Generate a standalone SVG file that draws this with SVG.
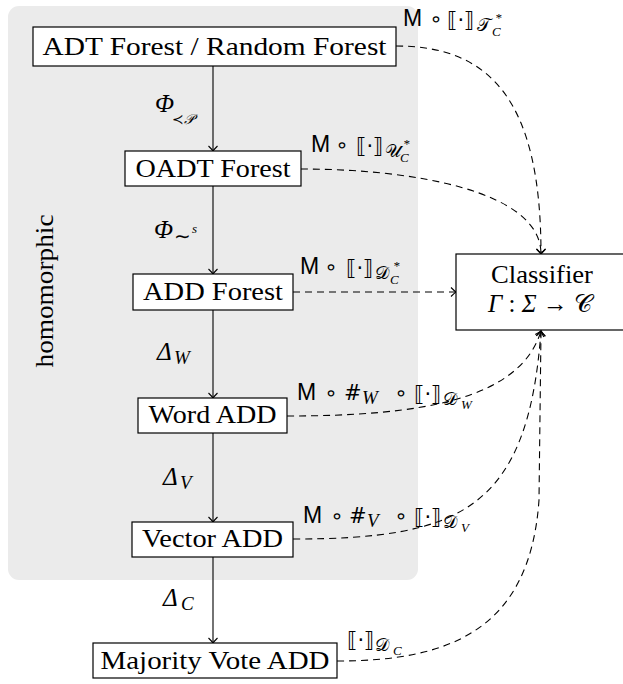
<svg xmlns="http://www.w3.org/2000/svg" width="623" height="684" viewBox="0 0 623 684">
  <style>
    .box { fill: #ffffff; stroke: #000000; stroke-width: 1.2; }
    .lbl { font-family: "Liberation Serif", "DejaVu Serif", serif; font-size: 25px; fill: #000; }
    .it { font-family: "Liberation Serif", "DejaVu Serif", serif; font-style: italic; fill: #000; }
    .gr { font-size: 25px; }
    .sb { font-size: 19px; }
    .ss { font-size: 13px; }
    .sf { font-family: "Liberation Sans", "DejaVu Sans", sans-serif; font-size: 23px; fill: #000; }
    .op { font-family: "DejaVu Sans", sans-serif; font-size: 21px; fill: #000; }
    .br { font-family: "DejaVu Sans", "Liberation Serif", serif; font-size: 21px; fill: #000; }
    .cal { font-family: "DejaVu Serif", "Liberation Serif", serif; font-size: 18px; fill: #000; }
    .hash { font-family: "DejaVu Sans", sans-serif; font-size: 21px; fill: #000; }
    .solid { fill: none; stroke: #000; stroke-width: 1.1; marker-end: url(#tip); }
    .dash { fill: none; stroke: #000; stroke-width: 1.1; stroke-dasharray: 7 5; marker-end: url(#tip); }
  </style>
  <defs>
    <marker id="tip" markerUnits="userSpaceOnUse" markerWidth="14" markerHeight="14" viewBox="-8 -7 10 14" refX="0" refY="0" orient="auto">
      <path d="M-5,-4.5 Q-1.5,-1 0,0 Q-1.5,1 -5,4.5" fill="none" stroke="#000" stroke-width="1.1"/>
    </marker>
  </defs>

  <!-- shaded region grouping the homomorphic transformations -->
  <rect x="8" y="6" width="410" height="574" rx="11" fill="#ebebeb"/>
  <text class="lbl" transform="translate(53,291) rotate(-90)" text-anchor="middle" textLength="153" lengthAdjust="spacingAndGlyphs">homomorphic</text>

  <!-- connectors -->
  <g id="connectors">
    <path class="solid" d="M213,66 L213,151"/>
    <path class="solid" d="M213,186 L213,274"/>
    <path class="solid" d="M213,310 L213,398"/>
    <path class="solid" d="M213,433 L213,522"/>
    <path class="solid" d="M213,557 L213,643"/>

    <path class="dash" d="M396,46 C490,46 541,100 541,254"/>
    <path class="dash" d="M301,169 C410,169 541,190 541,254"/>
    <path class="dash" d="M293,292 L456,292"/>
    <path class="dash" d="M287,416 C420,416 520,400 541,331"/>
    <path class="dash" d="M293,539 C460,539 528,510 541,331"/>
    <path class="dash" d="M337,661 C450,661 530,630 539,500 L541,331"/>

    <!-- labels of the solid arrows -->
    <text class="it gr" x="155" y="112">Φ</text>
    <text class="op" x="172" y="124" style="font-size:14px">≺</text>
    <text class="cal" x="184" y="124" style="font-size:14px;font-style:italic">𝒫</text>

    <text class="it gr" x="154" y="238">Φ</text>
    <text class="op" x="174" y="243" style="font-size:20px">∼</text>
    <text class="it ss" x="192" y="233">s</text>

    <text class="it gr" x="157" y="360">Δ</text>
    <text class="it sb" x="174" y="364">W</text>
    <text class="it gr" x="163" y="485">Δ</text>
    <text class="it sb" x="180" y="489">V</text>
    <text class="it gr" x="163" y="606">Δ</text>
    <text class="it sb" x="181" y="610">C</text>

    <!-- labels of the dashed arrows -->
    <text class="sf" x="403" y="26">M</text>
    <text class="op" x="436" y="26" text-anchor="middle">∘</text>
    <text class="br" x="447" y="27">⟦·⟧</text>
    <text class="cal" x="477" y="31">𝒯</text>
    <text class="it ss" x="495" y="22">*</text>
    <text class="it ss" x="492" y="36">C</text>

    <text class="sf" x="311" y="152">M</text>
    <text class="op" x="342" y="152" text-anchor="middle">∘</text>
    <text class="br" x="356" y="153">⟦·⟧</text>
    <text class="cal" x="385" y="157">𝒰</text>
    <text class="it ss" x="403" y="148">*</text>
    <text class="it ss" x="400" y="162">C</text>

    <text class="sf" x="300" y="274">M</text>
    <text class="op" x="331" y="274" text-anchor="middle">∘</text>
    <text class="br" x="346" y="275">⟦·⟧</text>
    <text class="cal" x="375" y="279">𝒟</text>
    <text class="it ss" x="393" y="270">*</text>
    <text class="it ss" x="390" y="284">C</text>

    <text class="sf" x="297" y="400">M</text>
    <text class="op" x="331" y="400" text-anchor="middle">∘</text>
    <text class="hash" x="344" y="400">#</text>
    <text class="it sb" x="362" y="404">W</text>
    <text class="op" x="401" y="400" text-anchor="middle">∘</text>
    <text class="br" x="414" y="401">⟦·⟧</text>
    <text class="cal" x="443" y="405">𝒟</text>
    <text class="it ss" x="461" y="409">W</text>

    <text class="sf" x="303" y="523">M</text>
    <text class="op" x="337" y="523" text-anchor="middle">∘</text>
    <text class="hash" x="349" y="523">#</text>
    <text class="it sb" x="367" y="527">V</text>
    <text class="op" x="401" y="523" text-anchor="middle">∘</text>
    <text class="br" x="414" y="524">⟦·⟧</text>
    <text class="cal" x="443" y="528">𝒟</text>
    <text class="it ss" x="461" y="532">V</text>

    <text class="br" x="347" y="647">⟦·⟧</text>
    <text class="cal" x="375" y="651">𝒟</text>
    <text class="it ss" x="393" y="655">C</text>
  </g>

  <!-- nodes -->
  <g id="adt-forest">
    <rect class="box" x="33" y="27" width="363" height="39"/>
    <text class="lbl" x="214.5" y="55" text-anchor="middle" textLength="344" lengthAdjust="spacingAndGlyphs">ADT Forest / Random Forest</text>
  </g>
  <g id="oadt-forest">
    <rect class="box" x="125" y="151" width="176" height="35"/>
    <text class="lbl" x="213" y="177" text-anchor="middle" textLength="155" lengthAdjust="spacingAndGlyphs">OADT Forest</text>
  </g>
  <g id="add-forest">
    <rect class="box" x="133" y="274" width="160" height="36"/>
    <text class="lbl" x="213" y="300" text-anchor="middle" textLength="140" lengthAdjust="spacingAndGlyphs">ADD Forest</text>
  </g>
  <g id="word-add">
    <rect class="box" x="138" y="398" width="149" height="35"/>
    <text class="lbl" x="212.5" y="423" text-anchor="middle" textLength="128" lengthAdjust="spacingAndGlyphs">Word ADD</text>
  </g>
  <g id="vector-add">
    <rect class="box" x="132" y="522" width="161" height="35"/>
    <text class="lbl" x="212.5" y="547" text-anchor="middle" textLength="141" lengthAdjust="spacingAndGlyphs">Vector ADD</text>
  </g>
  <g id="majority-vote-add">
    <rect class="box" x="93" y="643" width="244" height="35"/>
    <text class="lbl" x="215" y="669" text-anchor="middle" textLength="229" lengthAdjust="spacingAndGlyphs">Majority Vote ADD</text>
  </g>
  <g id="classifier">
    <rect class="box" x="456" y="254" width="172" height="76"/>
    <text class="lbl" x="542" y="283" text-anchor="middle" textLength="102" lengthAdjust="spacingAndGlyphs">Classifier</text>
    <text class="lbl" x="540" y="312" text-anchor="middle"><tspan class="it">Γ</tspan> : <tspan class="it">Σ</tspan> → <tspan class="cal" style="font-size:25px">𝒞</tspan></text>
  </g>
</svg>
